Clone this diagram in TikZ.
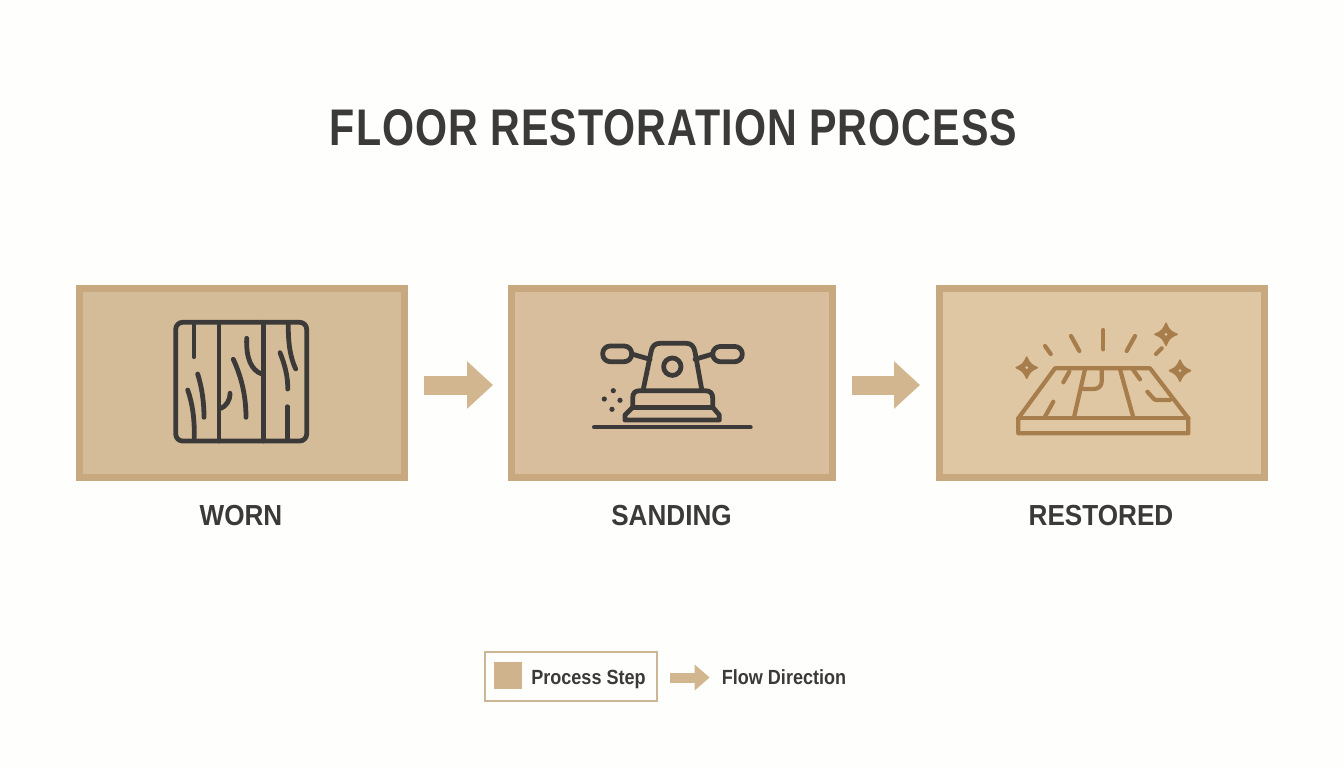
\documentclass[tikz,border=0pt]{standalone}
\usepackage{fontspec}
\usetikzlibrary{arrows.meta,positioning}
\setmainfont{Liberation Sans}
\newfontfamily\ttlfont[FakeStretch=0.8,LetterSpace=2]{Liberation Sans}
\newfontfamily\capfont[FakeStretch=0.9]{Liberation Sans}
\newfontfamily\legfont[FakeStretch=0.88]{Liberation Sans}
\definecolor{paper}{HTML}{FEFEFD}
\definecolor{edgetan}{HTML}{C8A97F}
\definecolor{filltan}{HTML}{D5BC99}
\definecolor{filltanb}{HTML}{D8BE9C}
\definecolor{filltanc}{HTML}{DFC7A3}
\definecolor{arrowtan}{HTML}{D2B68F}
\definecolor{ink}{HTML}{3C3A39}
\definecolor{brownink}{HTML}{A87D4C}
\definecolor{legendedge}{HTML}{CDB693}
\definecolor{legendfill}{HTML}{CFB38C}
\tikzset{
  stepbox/.style={draw=edgetan,line width=7pt,inner sep=0pt,minimum width=325pt,minimum height=189pt},
  flow/.style={draw=arrowtan,line width=19pt,-{Triangle[length=26pt,width=46pt,fill=arrowtan]}},
  legendflowline/.style={draw=arrowtan,line width=10pt,-{Triangle[length=15pt,width=25pt,fill=arrowtan]}},
  caption/.style={text=ink,font=\capfont\bfseries\fontsize{29}{32}\selectfont,inner sep=0pt},
  legendtext/.style={text=ink,font=\legfont\bfseries\fontsize{20.5}{24}\selectfont,inner sep=0pt,anchor=base},
  inkline/.style={draw=ink,line width=4.8pt,line cap=round,line join=round},
  brownline/.style={draw=brownink,line width=4.2pt,line cap=round,line join=round},
}
\begin{document}
\begin{tikzpicture}[x=1pt,y=-1pt]
\useasboundingbox (0,0) rectangle (1344,768);
\fill[paper] (0,0) rectangle (1344,768);
\node[text=ink,font=\ttlfont\bfseries\fontsize{51.5}{54}\selectfont,inner sep=0pt] (title) at (673.5,128) {FLOOR RESTORATION PROCESS};

\node[stepbox,fill=filltan] (worn) at (242,383) {};
\node[stepbox,fill=filltanb,minimum width=321pt] (sanding) at (672,383) {};
\node[stepbox,fill=filltanc] (restored) at (1102,383) {};

\node[caption] (lworn) at (241,516) {WORN};
\node[caption] (lsanding) at (671.5,516) {SANDING};
\node[caption] (lrestored) at (1101,516) {RESTORED};

\draw[flow,shorten <=16pt,shorten >=15pt] ([yshift=-2pt]worn.east) -- ([yshift=-2pt]sanding.west);
\draw[flow,shorten <=16pt,shorten >=16pt] ([yshift=-2pt]sanding.east) -- ([yshift=-2pt]restored.west);

% worn wood icon
\draw[inkline,rounded corners=7pt] (175.7,322.3) rectangle (306.7,441);
\draw[inkline] (219,322.3) -- (219,441);
\draw[inkline] (263.3,322.3) -- (263.3,441);
\draw[inkline] (194,323) -- (194,356.7);
\draw[inkline] (197.7,374) .. controls (202,388) and (204,402) .. (204,417.3);
\draw[inkline] (187.7,390) .. controls (193,405) and (194.5,420) .. (194.3,438);
\draw[inkline] (230,393.3) .. controls (230,401) and (226,406) .. (221,408.3);
\draw[inkline] (233.3,359.3) .. controls (241,376) and (246,395) .. (246,417.3);
\draw[inkline] (246.7,338.3) .. controls (246,358) and (251,370) .. (261.7,374);
\draw[inkline] (288.3,323) .. controls (288,342) and (290,357) .. (295.7,369);
\draw[inkline] (280,352.7) .. controls (285,365) and (288,377) .. (287.7,389);
\draw[inkline] (287.3,406.7) -- (287.3,440);

% sander icon
\draw[inkline,rounded corners=7.5pt] (602.7,346) rectangle (631.7,361.7);
\draw[inkline,rounded corners=7.5pt] (712.7,346.5) rectangle (742.3,361.7);
\draw[inkline] (631.7,354) -- (650,359.3);
\draw[inkline] (712.7,354) -- (695,359.3);
\draw[inkline] (643.3,389.3) -- (651,352) .. controls (652,346) and (655,343.3) .. (660,343.3) -- (686,343.3) .. controls (691,343.3) and (694,346) .. (695,352) -- (701.7,389.3);
\draw[inkline] (672.3,366.7) circle[radius=8.7pt];
\draw[inkline] (632.7,407.3) -- (632.7,398) .. controls (632.7,393) and (635,390.7) .. (640,390.7) -- (705,390.7) .. controls (710,390.7) and (712.7,393) .. (712.7,398) -- (712.7,407.3);
\draw[inkline] (632.7,407.3) -- (712.7,407.3);
\draw[inkline] (632.7,407.3) -- (625,415) -- (625,420) -- (719.3,420) -- (719.3,415) -- (712.7,407.3);
\draw[inkline,line width=4pt] (594,427.3) -- (750.7,427.3);
\fill[ink] (613.3,390.7) circle[radius=2.6pt] (604.3,399) circle[radius=2.6pt] (620,400.3) circle[radius=2.6pt] (612,409.3) circle[radius=2.6pt];

% restored icon
\draw[brownline] (1018.3,418.3) -- (1055,368.3) -- (1150,368.3) -- (1188.3,418.3) -- (1188.3,433.3) -- (1018.3,433.3) -- cycle;
\draw[brownline] (1018.3,418.3) -- (1188.3,418.3);
\draw[brownline] (1085,369.3) -- (1074,417.3);
\draw[brownline] (1120,369.3) -- (1133.3,417.3);
\draw[brownline] (1101.7,369.3) -- (1101.7,381.7) .. controls (1101.7,386) and (1098,389) .. (1094,389) -- (1083.3,389);
\draw[brownline] (1069.3,371.7) -- (1063.3,382.3);
\draw[brownline] (1053.3,401.7) -- (1045,416.7);
\draw[brownline] (1133.3,370) -- (1140,379.3);
\draw[brownline] (1147.3,391.7) -- (1153,398) .. controls (1154,399.5) and (1155,400) .. (1157,400) -- (1170,400);
\draw[brownline] (1045,346) -- (1050.7,354);
\draw[brownline] (1071,336) -- (1079.3,351);
\draw[brownline] (1103.3,330) -- (1103.3,349.3);
\draw[brownline] (1135,336) -- (1126.7,351);
\draw[brownline] (1161.7,348.3) -- (1156,354);
\foreach \cx/\cy/\rr in {1026.7/367.7/10.5,1166/334.3/11,1180/370.7/10.5}{
  \filldraw[brownink,line width=1.6pt,line join=round] (\cx-\rr,\cy) .. controls (\cx-4,\cy-3) and (\cx-3,\cy-4) .. (\cx,\cy-\rr)
    .. controls (\cx+3,\cy-4) and (\cx+4,\cy-3) .. (\cx+\rr,\cy)
    .. controls (\cx+4,\cy+3) and (\cx+3,\cy+4) .. (\cx,\cy+\rr)
    .. controls (\cx-3,\cy+4) and (\cx-4,\cy+3) .. (\cx-\rr,\cy) -- cycle;
  \fill[filltanc] (\cx,\cy) circle[radius=1.5pt];
}

% legend
\node[draw=legendedge,line width=2pt,fill=paper,inner sep=0pt,minimum width=172pt,minimum height=49pt] (legendbox) at (570.5,676) {};
\node[fill=legendfill,inner sep=0pt,minimum width=28pt,minimum height=27pt] (legendswatch) at (508.3,675.5) {};
\node[legendtext] (legendstep) at (588.5,684.5) {Process Step};
\node[legendtext] (legendflow) at (784,684.5) {Flow Direction};
\draw[legendflowline,shorten <=12.5pt,shorten >=12pt] ([yshift=-1.5pt]legendbox.east) -- (legendflow.west |- 0,677.5);
\end{tikzpicture}
\end{document}
